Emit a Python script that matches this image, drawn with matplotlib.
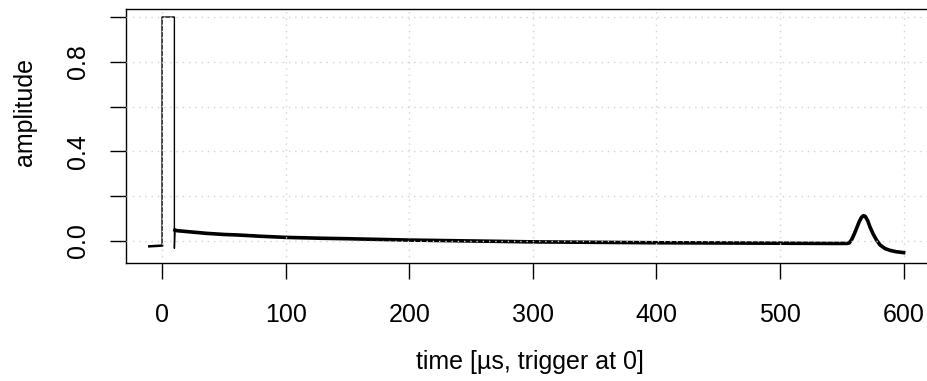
import matplotlib
matplotlib.use("Agg")
from matplotlib import pyplot as plt

plt.rcParams['font.family'] = ['Liberation Sans', 'DejaVu Sans']

# pre-trigger baseline (time in microseconds, amplitude)
base_t = [-10.3, -7, -4, -1, 0]
base_v = [-0.024, -0.023, -0.022, -0.021, -0.020]

# saturated pulse right after the trigger
pulse_t = [0, 0, 10, 10, 10.5]
pulse_v = [-0.020, 1.0, 1.0, -0.033, 0.049]

# decaying tail and the late echo
tail_t = [10.5, 12, 20, 36, 50, 60, 80, 100, 130, 150, 200, 250, 300, 350,
          400, 450, 500, 540, 554, 556, 558, 560, 562, 564, 566, 567.5, 569,
          571, 573, 575.5, 578, 581, 585, 589, 594, 600]
tail_v = [0.049, 0.046, 0.042, 0.034, 0.029, 0.027, 0.021, 0.016, 0.012, 0.010,
          0.004, 0.000, -0.004, -0.006, -0.008, -0.009, -0.010, -0.011, -0.011,
          -0.009, 0.006, 0.030, 0.057, 0.085, 0.106, 0.113, 0.110, 0.090, 0.060,
          0.030, 0.005, -0.018, -0.034, -0.042, -0.048, -0.052]

x_ticks = [0, 100, 200, 300, 400, 500, 600]
y_ticks = [0.0, 0.2, 0.4, 0.6, 0.8, 1.0]
y_tick_labels = ['0.0', '', '0.4', '', '0.8', '']

fig = plt.figure(figsize=(9.27, 3.81), dpi=100)
ax = fig.add_axes([0.1356, 0.309, 0.873, 0.6675])

ax.plot(base_t, base_v, color='black', lw=1.8, zorder=2)
ax.plot(pulse_t, pulse_v, color='black', lw=1.0, zorder=2)
ax.plot(tail_t, tail_v, color='black', lw=2.6, zorder=2, solid_joinstyle='round')

ax.set_xlim(-29.4, 625.4)
ax.set_ylim(-0.0996, 1.036)

# dotted grid like R's grid(), drawn over the trace
for x in x_ticks:
    ax.axvline(x, color='#d3d3d3', lw=1, linestyle=(0, (1, 3.5)), zorder=3)
for y in y_ticks:
    ax.axhline(y, color='#d3d3d3', lw=1, linestyle=(0, (1, 3.5)), zorder=3)

ax.set_xticks(x_ticks)
ax.set_yticks(y_ticks)
ax.set_yticklabels(y_tick_labels, rotation=90, va='center')
ax.tick_params(length=11.5, width=1, labelsize=18)
ax.tick_params(axis='x', pad=17)
ax.tick_params(axis='y', pad=14)

ax.spines['right'].set_visible(False)
for s in ['left', 'bottom', 'top']:
    ax.spines[s].set_linewidth(1)

ax.set_xlabel('time [\u00b5s, trigger at 0]', fontsize=18)
ax.set_ylabel('amplitude', fontsize=18)
ax.xaxis.set_label_coords((530 - 125.7) / (0.873 * 927), -(362 - 263.3) / 254.3)
ax.yaxis.set_label_coords(-(125.7 - 25) / (0.873 * 927), (263.3 - 112) / 254.3)
ax.xaxis.label.set_va('center')
ax.yaxis.label.set_va('center')

fig.savefig('out.png', dpi=100)
